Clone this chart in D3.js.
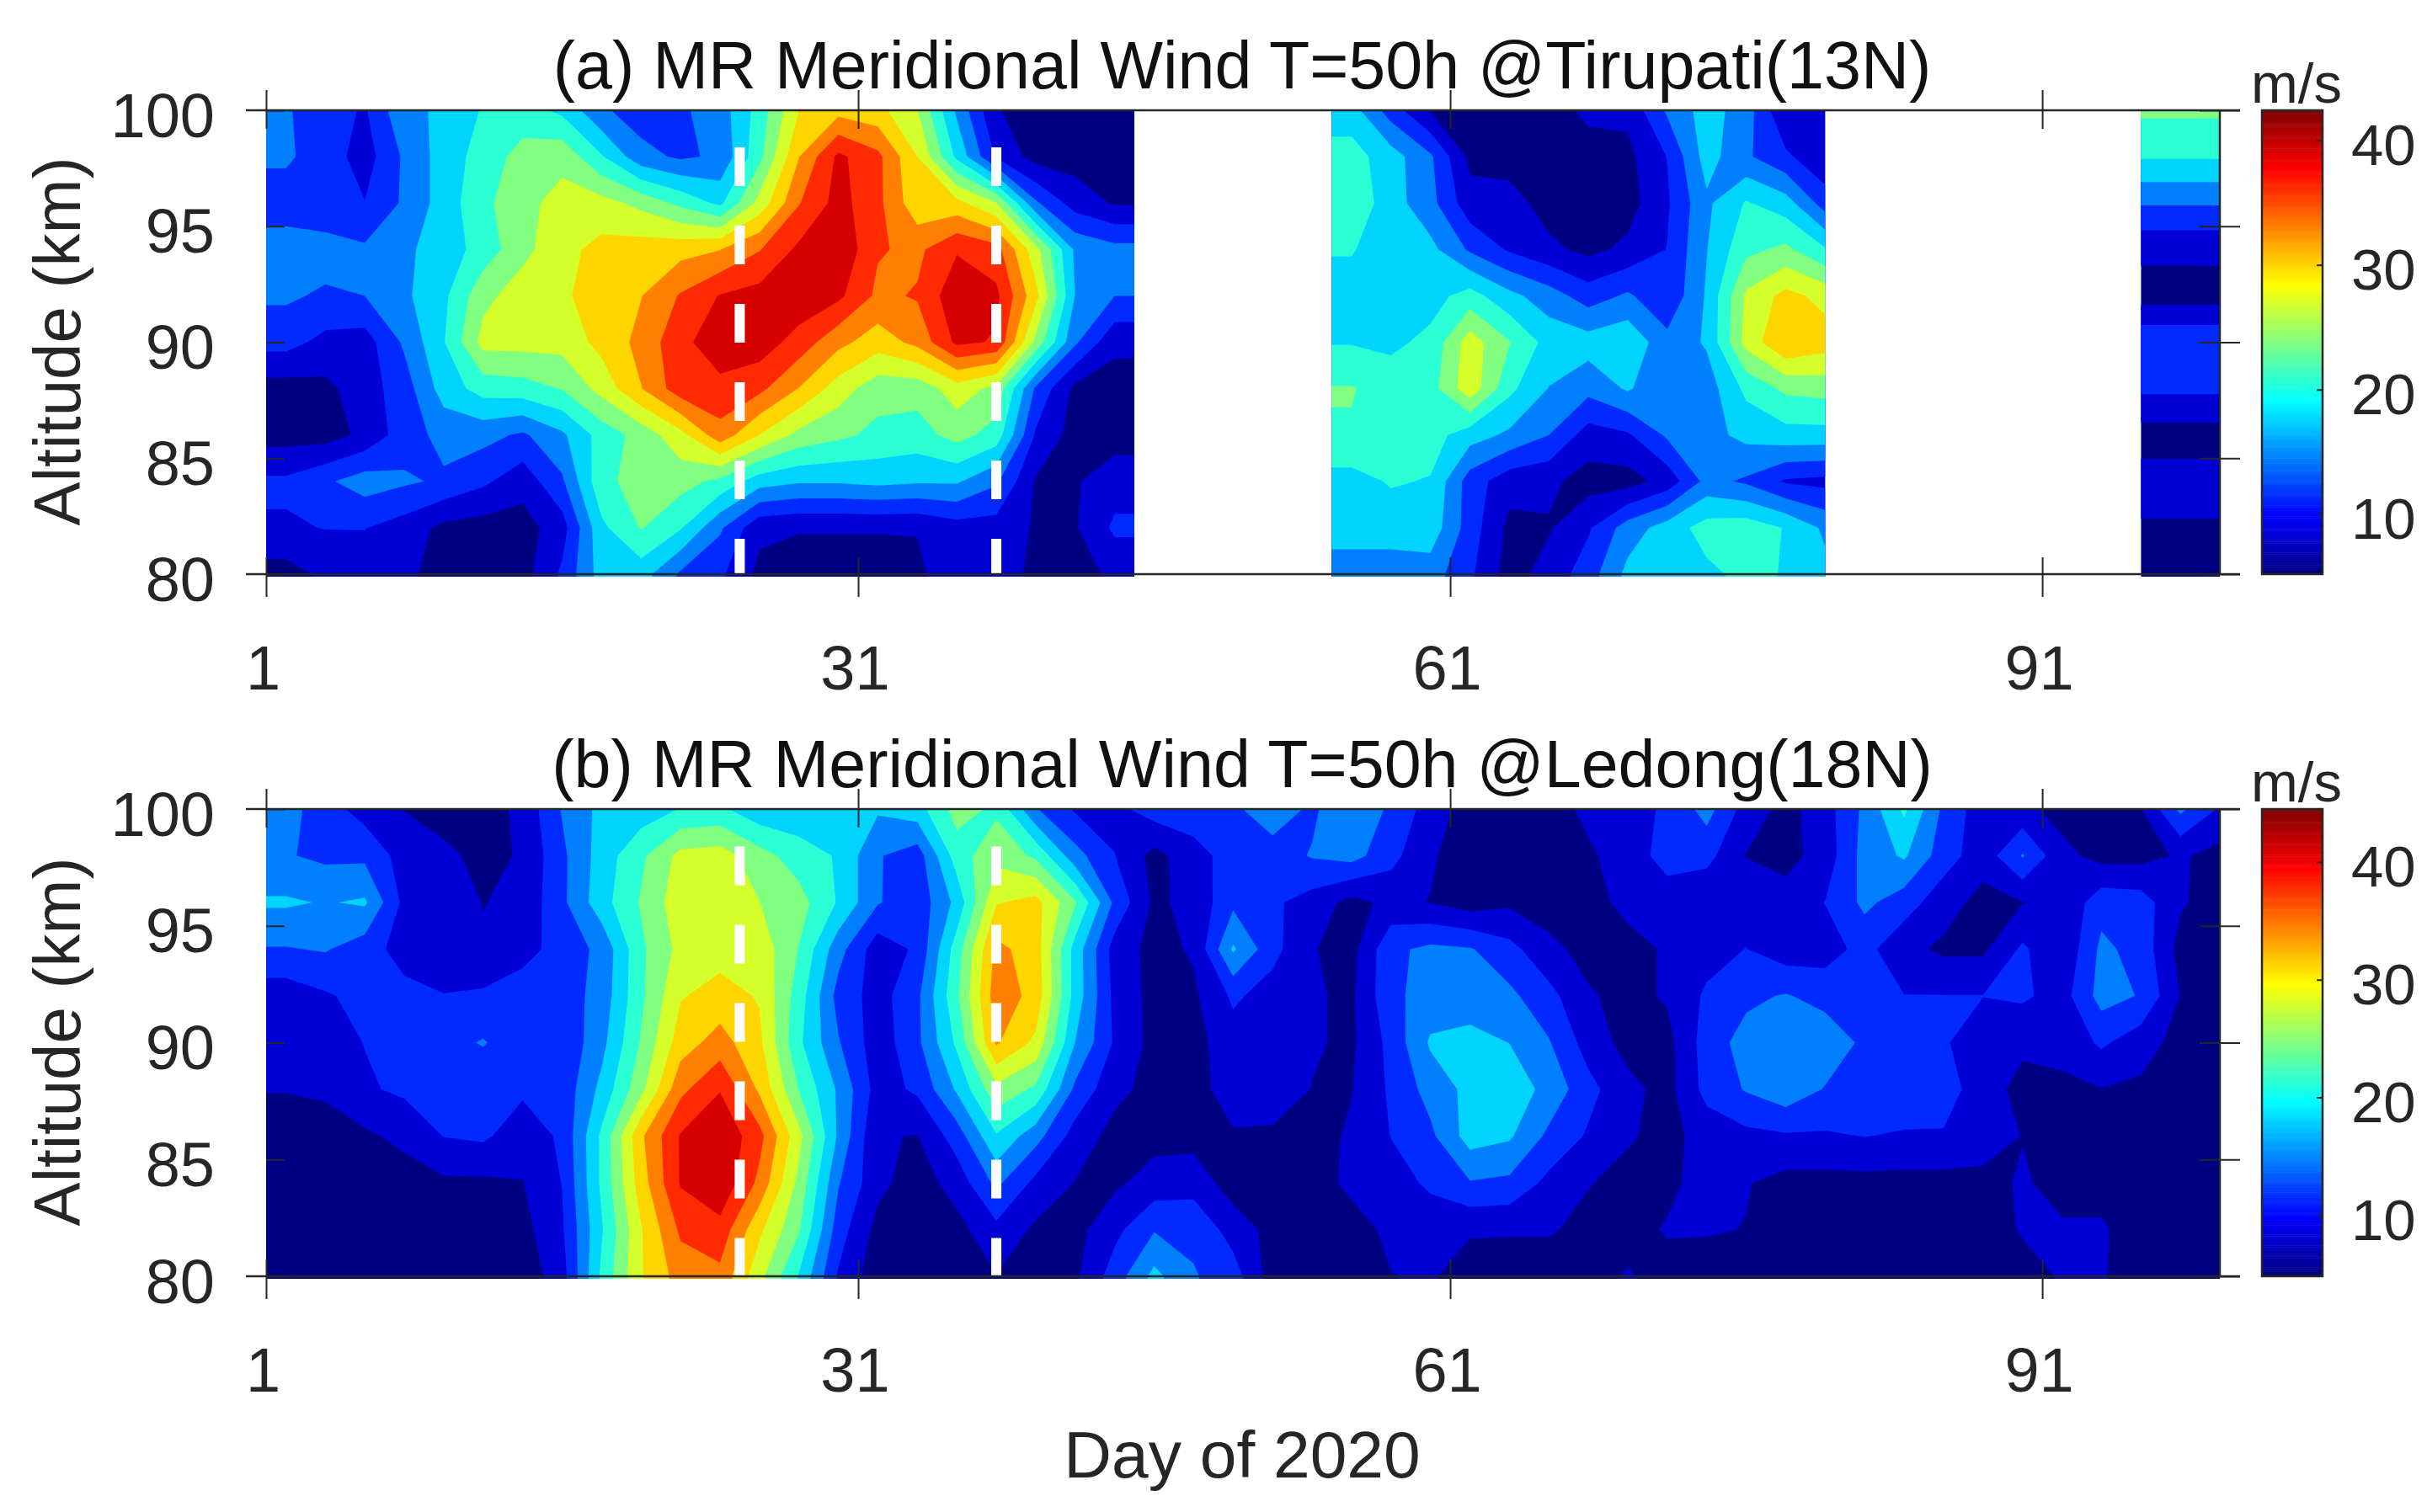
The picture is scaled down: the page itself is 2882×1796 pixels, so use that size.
<!DOCTYPE html>
<html>
<head>
<meta charset="utf-8">
<script src="https://cdn.jsdelivr.net/npm/d3@7"></script>
<style>
  html, body { margin: 0; padding: 0; background: #fff; }
  text { font-family: "Liberation Sans", Arial, sans-serif; fill: #262626; }
</style>
</head>
<body>
<div id="chart"></div>
<script>
// altitude of each data row, km (rows below run top to bottom)
var altitudes = [100, 98, 96, 94, 92, 90, 88, 86, 84, 82, 80];

// tick labels
var dayTicks = [1, 31, 61, 91];
var altTicks = [80, 85, 90, 95, 100];
var barTicks = [10, 20, 30, 40];
var dashDays = [25, 38];

// (a) Tirupati, days 2,4,...,44
var tirupatiDays1 = d3.range(2, 45, 2);
var tirupatiWind1 = [
  [14.8,13,11,17,18,21,22,20,15,13,14,16,22,30,32,31,27,17,8.5,7,7,7],
  [15,13,10,15,19,22,25,26,21,15.5,14,15,23,33,40,37,30,20,11,7,7,7],
  [13,12,11.5,15,19,23,26,28,28,26,23,20,28,36,40.5,37,31,31,27,15,10,8],
  [16,16,15,17,19,22,26,29,31,31.5,32,33,36,40,42,36.5,35.5,39,37.5,28,17,15.5],
  [15,14,14.5,17,20,26,28.5,29.5,31.5,33,36.5,39.5,40.5,41.5,40,35.5,36.5,41.5,40,31,17.5,14.5],
  [12.5,10.5,10,15,20.5,28,28,28,31,34,38.5,41,41,38,34,31.5,34,40,39,26,15,9],
  [7,7.5,10,13,19,22,22.5,24,28,33,38,38.5,37,33,28.5,25,25,28.5,26,14,7.5,7],
  [7,7,9,13,15.5,15.5,14,17,22,25,29,35,30,26,24.5,23,22.5,25,22.5,11,7,7],
  [12,14,16,15,14,12,9.5,14,23,25,25,23,19,18,18,18.5,18,18,15,8,8,10],
  [11,11.5,11.5,10,7.5,7,7,10,20,24,21,15,9,8.5,8.5,8.5,8.5,10,10,8,8,12],
  [7,9,9.5,9,7,7,7,12,19,19,14,12,7.5,7,7,7,7.5,11,11,7,7,9]
];

// (a) days 56,58,...,80
var tirupatiDays2 = d3.range(56, 81, 2);
var tirupatiWind2 = [
  [19,13,8,7,7,7,9,9,15,19,16,8.5,11],
  [22,19,15,7.5,7,7,7,7.5,11.5,19,15,12,9],
  [23,19,15.5,9.5,9.5,7,7,7,11,17,21,19,13],
  [21,18.5,18.5,14,11,9,7.5,9,11.5,17.5,23,24.5,21],
  [19,18.5,19.5,22,18.5,16,13,15,12,18,27.5,31,29],
  [20.5,20,21.5,28.5,24,19.5,19,20,15.5,18,28,33,31.5],
  [24,22.5,22.5,29,21.5,17.5,15.5,18,15,16,21.5,24.5,25],
  [23.5,22,22,19,17,14.5,10,11,15,16.5,18.5,19.5,19.5],
  [19.5,21,20.5,13,9.5,9,7,7,9.5,15.5,14,11,10.5],
  [19,19,19.5,13,7.5,8,11,16,19,22,22.5,20.5,17],
  [16,16,16,12,7,9.5,13,18.5,19,20,21.5,20.5,18.5]
];

// (a) days 96-100 are flat in time, one column
var tirupatiDays3 = [98];
var tirupatiWind3 = [[24.4],[21],[14.8],[9],[7],[14],[12],[7],[9.5],[8],[6.5]];

// (b) Ledong, days 2,4,...,100
var ledongDays = d3.range(2, 101, 2);
var ledongWind = [
  [16,13,10,8,6.5,6.5,9,15,19,19.5,21.5,22,19,19,18.5,18.5,20,26,24,15,11,10.5,13,13.5,
   14,17,14,18,14,10,6.5,6.5,6.5,9,10,12,16,10,7,10,15.5,22,14,9.5,9,7,7,8,15.5,11],
  [15,14,14,10,9,7,8.5,14,19.5,24,29,29.5,26,23,21,15,13,23,27,24,16,11.5,7,10,
   13,13,15,16,12.5,8.5,6.5,6.5,6.5,7.5,10,12.5,12.5,8,7,9.5,16,18.5,13,9.5,15,9,7,7,8.5,7],
  [18.5,17.8,18.5,10.5,10,8,9,14,20,25,30,31,28,26,21,15,12.5,19,31,32.5,25,14,7.5,9,
   14,12,10,7,9,8,6.5,7.5,6.5,7,9,10,8.5,10,9.5,11.5,15.5,13,9.5,7,8,8.5,13.5,13,8.5,6.5],
  [14.5,15,13,10,10,8.5,10,13,15.5,24,29,30,30,24.5,16,9.5,12,23,35.5,33,20,10,7,8.5,
   18.5,12.5,8.3,7,14,15.5,15,12.5,9,7,7,8.5,10,11.5,9.5,10,12.5,9,7.5,7.5,12,8.5,15.5,13.5,7,6.5],
  [9.5,11,12.5,12.5,11.5,12,13.5,13,16,24,31,32.5,31,23,13.5,10,14,24,36.5,33.5,20,10.5,7,7.5,
   12,10,8.5,7.5,14,16,16.5,15.5,12.5,8.5,7,8.5,12,14,15,13.5,11.5,11.5,11.5,11.5,12,10,16,14.5,8,7],
  [9.5,10,11.5,12.5,13.5,15,12.5,12,17,25,33,36,32,22,15,9.5,14,22,35,30.5,18,11,7,7,
   10,9.5,8.5,7.5,12.5,18.5,19,18,15,10,7,7,13,16,17,17,14,13,12,8.5,8.5,9,12,9.5,7,6.5],
  [8.2,8.5,11,12,12,12,12,12.5,19,27,37,41,34,24.5,17.5,10,12,18.5,27,24,14,9,7,7,
   9.5,10,8,8,12,16,19,20,17,12.5,9,7,12.5,15,17,14.5,13,14,13.5,9,7.5,7.5,8,7.5,7,7],
  [7,7,7.5,9,11.5,12,9.5,12,22,34,41.5,44,39,29,17.5,8.3,8,13,21,16,10,7,7,7,
   7.8,7.5,7,8.5,11.5,14,19.5,18.5,14,11,8.5,7,9.5,10.5,11,11,11.5,11,11,10,8,7,7,7,6.5,6.5],
  [6.5,6.5,6.5,6.5,7.5,7.5,8,11.5,22,33,41.5,44,37,27,15,9,6.5,9.5,15.5,10.5,8,7.5,9.5,10,
   6.5,6.5,6.5,9,10,12,14.5,14,10.5,8.3,7,7,10,8.3,7,7,7,7,7,7,8.5,7,7,7,6.5,6.5],
  [6,6,6,6,6,8,7,11,21,31,38.5,40,32,25,13,7,6,7,10.5,7.5,7,10.5,14.5,14,
   10,7,6.5,6.5,9,9.5,8.5,8.5,8.5,7,6.5,8.5,8.5,8,6.5,6,6,6,6,6,8.5,8.5,8.5,6.5,6,6],
  [6,6,6,6,6,7,6,10,22,31,36,37,29,21,11,6,6,6,8,6,7.5,13,19,15,
   13,6.5,6,6,8,8.5,6.5,6,6,6,8.5,6.5,6,6,6,6,6,6,6,6,6.5,8.5,8.5,6,6,6]
];

// colour range of each colourbar, m/s
var rangeA = [5.2, 42.4];
var rangeB = [4.8, 44.5];

var w = 2882;
var h = 1796;
var left = 316;
var right = 2636;
var bandCount = 12;

var jet = d3.scaleLinear()
  .domain([0, 0.125, 0.375, 0.625, 0.875, 1])
  .range(["#000083", "#0000ff", "#00ffff", "#ffff00", "#ff0000", "#800000"]);

var svg = d3.select("#chart").append("svg")
  .attr("width", w)
  .attr("height", h);

var xScale = d3.scaleLinear().domain([1, 100]).range([left, right]);

// one contourf block. d3.contours closes rings at the grid edge, so pad a copy of
// the edge cells and let the clip cut that part off
function drawBlock(g, yScale, id, days, rows, range, clipDays) {
  var step = days.length > 1 ? days[1] - days[0] : 2;
  var padded = [rows[0]].concat(rows, [rows[rows.length - 1]])
    .map(r => [r[0]].concat(r, [r[r.length - 1]]));
  var nx = days.length + 2;
  var ny = altitudes.length + 2;
  var levels = d3.range(1, bandCount).map(i => range[0] + i * (range[1] - range[0]) / bandCount);

  var x0 = xScale(clipDays[0]);
  var x1 = xScale(clipDays[1]);
  var y0 = yScale(100);
  var y1 = yScale(80);

  svg.append("clipPath").attr("id", id).append("rect")
    .attr("x", x0).attr("y", y0)
    .attr("width", x1 - x0).attr("height", y1 - y0 + 3);

  var layer = g.append("g").attr("clip-path", "url(#" + id + ")");

  layer.append("rect")
    .attr("x", x0).attr("y", y0)
    .attr("width", x1 - x0).attr("height", y1 - y0 + 3)
    .attr("fill", jet(0));

  var grid = d3.geoTransform({
    point: function(gx, gy) {
      var day = days[0] + (gx - 1.5) * step;
      var alt = altitudes[0] - (gy - 1.5) * 2;
      this.stream.point(xScale(day), yScale(alt));
    }
  });
  var path = d3.geoPath(grid);

  var contours = d3.contours().size([nx, ny]).thresholds(levels)(padded.flat());

  layer.selectAll("path.band")
    .data(contours)
    .enter()
    .append("path")
    .attr("class", "band")
    .attr("d", path)
    .attr("fill", (d, i) => jet((i + 1) / bandCount));
}

function drawPanel(top, bottom, title, blocks, range) {
  var g = svg.append("g");
  var yScale = d3.scaleLinear().domain([80, 100]).range([bottom, top]);

  blocks.forEach(b => drawBlock(g, yScale, b.id, b.days, b.rows, range, b.clip));

  // white dashed lines, they start near 98.4 km
  var dashLine = d3.line().x(d => xScale(d[0])).y(d => yScale(d[1]));
  dashDays.forEach(function(day) {
    g.append("path")
      .attr("d", dashLine([[day, 98.4], [day, 80]]))
      .attr("fill", "none")
      .attr("stroke", "#fff")
      .attr("stroke-width", 12)
      .attr("stroke-dasharray", "46 47");
  });

  // box lines, the horizontal ones run past the plot on both sides
  [top, bottom].forEach(function(y) {
    g.append("line").attr("x1", left - 24).attr("x2", right + 24)
      .attr("y1", y).attr("y2", y)
      .attr("stroke", "#262626").attr("stroke-width", 2.5);
  });
  g.append("line").attr("x1", right).attr("x2", right)
    .attr("y1", top).attr("y2", bottom)
    .attr("stroke", "#262626").attr("stroke-width", 2.5);

  // ticks cross the box, so both halves are drawn
  var yAxis = g.append("g")
    .attr("transform", "translate(" + left + ",0)")
    .call(d3.axisLeft(yScale).tickValues(altTicks).tickSize(24).tickPadding(37));
  yAxis.selectAll("line").attr("x2", 22);
  yAxis.selectAll("text").attr("dy", null).attr("y", 31);

  var yAxisRight = g.append("g")
    .attr("transform", "translate(" + right + ",0)")
    .call(d3.axisRight(yScale).tickValues(altTicks).tickSize(24).tickFormat(""));
  yAxisRight.selectAll("line").attr("x2", 24).attr("x1", -24);

  var xAxis = g.append("g")
    .attr("transform", "translate(0," + bottom + ")")
    .call(d3.axisBottom(xScale).tickValues(dayTicks).tickSize(27).tickPadding(84).tickFormat(d3.format("d")));
  xAxis.selectAll("line").attr("y1", -20);
  xAxis.selectAll("text").attr("dy", null).attr("y", 137).attr("dx", -4);

  var xAxisTop = g.append("g")
    .attr("transform", "translate(0," + top + ")")
    .call(d3.axisTop(xScale).tickValues(dayTicks).tickSize(24).tickFormat(""));
  xAxisTop.selectAll("line").attr("y1", 22);

  [yAxis, yAxisRight, xAxis, xAxisTop].forEach(function(a) {
    a.select(".domain").remove();
    a.selectAll("line").attr("stroke", "#262626").attr("stroke-width", 2);
    a.selectAll("text").attr("font-size", 74).attr("fill", "#262626");
    a.attr("font-family", null);
  });

  // title and y label
  g.append("text")
    .attr("x", 1475).attr("y", top - 26)
    .attr("text-anchor", "middle")
    .attr("font-size", 79)
    .style("fill", "#111")
    .text(title);

  g.append("text")
    .attr("transform", "translate(95," + ((top + bottom) / 2 - 1) + ") rotate(-90)")
    .attr("text-anchor", "middle")
    .attr("font-size", 78)
    .text("Altitude (km)");

  // colourbar
  var barLeft = 2686;
  var barRight = 2758;
  var barScale = d3.scaleLinear().domain(range).range([bottom, top]);
  var steps = d3.range(256);
  var stepHeight = (bottom - top) / 256;

  g.append("g").selectAll("rect")
    .data(steps)
    .enter()
    .append("rect")
    .attr("x", barLeft)
    .attr("y", d => bottom - (d + 1) * stepHeight)
    .attr("width", barRight - barLeft)
    .attr("height", stepHeight + 0.5)
    .attr("fill", d => jet(d / 255));

  g.append("rect")
    .attr("x", barLeft).attr("y", top)
    .attr("width", barRight - barLeft).attr("height", bottom - top)
    .attr("fill", "none").attr("stroke", "#262626").attr("stroke-width", 2.5);

  var barAxis = g.append("g")
    .attr("transform", "translate(" + barRight + ",0)")
    .call(d3.axisRight(barScale).tickValues(barTicks).tickSize(-7).tickPadding(34));
  barAxis.select(".domain").remove();
  barAxis.selectAll("line").attr("stroke", "#262626").attr("stroke-width", 2);
  barAxis.selectAll("text").attr("dy", null).attr("y", 29).attr("font-size", 69).attr("fill", "#262626");
  barAxis.attr("font-family", null);

  g.append("text")
    .attr("x", 2673).attr("y", top - 9)
    .attr("font-size", 67)
    .text("m/s");
}

drawPanel(131, 682, "(a) MR Meridional Wind T=50h @Tirupati(13N)", [
  { id: "clipA1", days: tirupatiDays1, rows: tirupatiWind1, clip: [1, 45] },
  { id: "clipA2", days: tirupatiDays2, rows: tirupatiWind2, clip: [55, 80] },
  { id: "clipA3", days: tirupatiDays3, rows: tirupatiWind3, clip: [96, 100] }
], rangeA);

drawPanel(961, 1516, "(b) MR Meridional Wind T=50h @Ledong(18N)", [
  { id: "clipB", days: ledongDays, rows: ledongWind, clip: [1, 100] }
], rangeB);

svg.append("text")
  .attr("x", 1475).attr("y", 1755)
  .attr("text-anchor", "middle")
  .attr("font-size", 78.5)
  .text("Day of 2020");
</script>
</body>
</html>
